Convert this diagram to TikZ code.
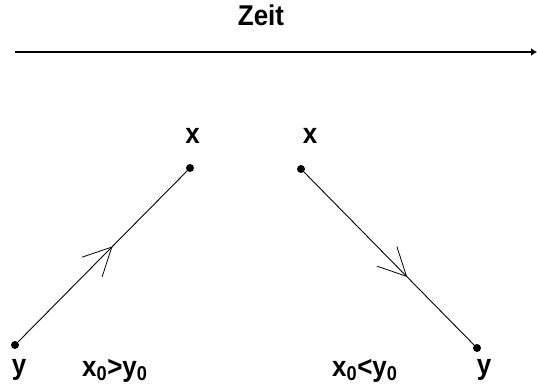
\documentclass[tikz,border=0pt]{standalone}
\usepackage{fontspec}
\setmainfont{Liberation Sans}
\usetikzlibrary{arrows.meta,decorations.markings}
\newcommand{\talltxt}[1]{\scalebox{1}[1.1]{#1}}
\begin{document}
\begin{tikzpicture}[x=1pt,y=-1pt,
  lbl/.style={font=\fontsize{26}{26}\selectfont\bfseries, inner sep=0pt, anchor=base},
  dot/.style={circle, fill=black, inner sep=0pt, minimum size=8pt},
  world/.style={line width=0.9pt},
  midarrow/.style={decoration={markings, mark=at position #1 with {\arrow{Straight Barb[length=28pt,width=28pt,line width=0.8pt]}}}, postaction={decorate}}]
\useasboundingbox (0,0) rectangle (537,390);
% time axis
\node[lbl] (zeit) at (261,26) {\talltxt{Zeit}};
\coordinate (t0) at (15,52);
\coordinate (t1) at (537,52);
\draw[line width=1.1pt, -{Latex[length=6pt,width=8pt]}] (t0) -- (t1);
% left world line
\node[dot] (A1) at (190,168) {};
\node[dot] (B1) at (15,345) {};
\draw[world, midarrow=0.557] (B1.center) -- (A1.center);
\node[lbl] (xl) at (192.5,143) {\talltxt{x}};
\node[lbl] (yl) at (19,374) {\talltxt{y}};
\node[lbl, anchor=base west] (cl) at (82,376) {\talltxt{x\textsubscript{0}>y\textsubscript{0}}};
% right world line
\node[dot] (A2) at (301,169) {};
\node[dot] (B2) at (477,348) {};
\draw[world, midarrow=0.603] (A2.center) -- (B2.center);
\node[lbl] (xr) at (310,143) {\talltxt{x}};
\node[lbl] (yr) at (484,374) {\talltxt{y}};
\node[lbl, anchor=base west] (cr) at (332,376) {\talltxt{x\textsubscript{0}<y\textsubscript{0}}};
\end{tikzpicture}
\end{document}
